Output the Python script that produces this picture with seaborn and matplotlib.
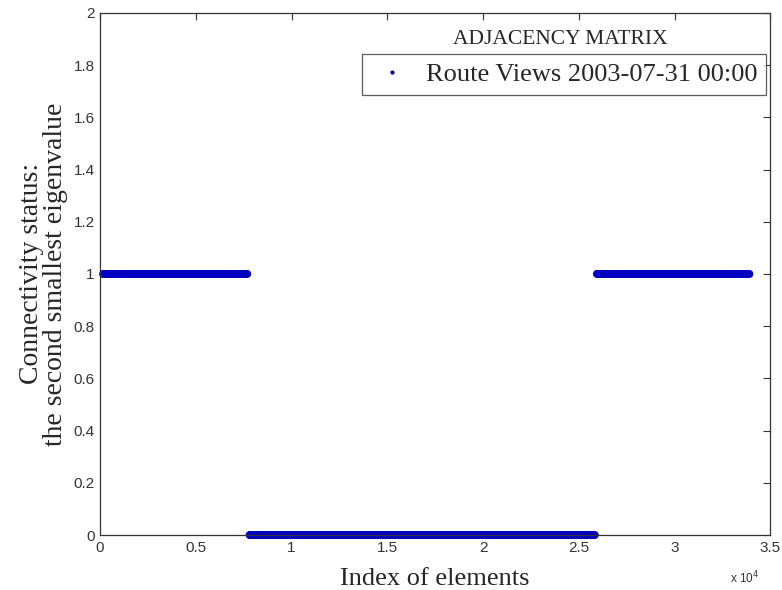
import numpy as np
import pandas as pd
import matplotlib
matplotlib.use("Agg")
import matplotlib.pyplot as plt
import seaborn as sns

# Segments of element indices and the eigenvalue status held across each
seg_start = [150, 7800, 25940]
seg_end = [7690, 25840, 33920]
seg_value = [1, 0, 1]
series_label = "Route Views 2003-07-31 00:00"

frames = []
for a, b, v in zip(seg_start, seg_end, seg_value):
    idx = np.arange(a, b + 1, 20)
    frames.append(pd.DataFrame({"index": idx, "status": v}))
df = pd.concat(frames, ignore_index=True)

sns.set_style("white")
plt.rcParams["font.family"] = ["Liberation Sans", "DejaVu Sans"]

fig = plt.figure(figsize=(7.82, 5.90), dpi=100)
ax = fig.add_axes([0.128, 0.0932, 0.857, 0.885])

sns.scatterplot(data=df, x="index", y="status", ax=ax, marker="o", s=30,
                color="#0000c0", edgecolor="none", legend=False, clip_on=False)

ax.set_xlim(0, 35000)
ax.set_ylim(0, 2)
ax.set_xticks(np.arange(0, 35001, 5000))
ax.set_xticklabels(["0", "0.5", "1", "1.5", "2", "2.5", "3", "3.5"])
ax.set_yticks(np.arange(0, 2.01, 0.2))
ax.set_yticklabels(["0", "0.2", "0.4", "0.6", "0.8", "1", "1.2", "1.4", "1.6", "1.8", "2"])
ax.tick_params(direction="in", length=5, width=0.8, labelsize=11, colors="#333333",
               top=True, right=True, pad=4)
for s in ax.spines.values():
    s.set_color("#333333")
    s.set_linewidth(0.9)

serif = ["Liberation Serif", "DejaVu Serif"]
ax.set_xlabel("Index of elements", fontsize=19, family=serif, labelpad=10)
ax.set_ylabel("Connectivity status:\nthe second smallest eigenvalue", fontsize=20,
              family=serif, labelpad=4, linespacing=0.95)
fig.text(0.933, 0.012, r"x 10$^{4}$", fontsize=8.5, color="#333333")

ax.text(0.687, 0.949, "ADJACENCY MATRIX", transform=ax.transAxes, ha="center",
        va="center", fontsize=15.5, family=serif)

handle = plt.Line2D([], [], marker=".", linestyle="none", color="#000080", markersize=4)
leg = ax.legend([handle], [series_label], loc="upper right", bbox_to_anchor=(0.994, 0.921),
                prop={"family": serif, "size": 19}, frameon=True, fancybox=False,
                handlelength=1.6, handletextpad=0.5, borderpad=0.33, borderaxespad=0)
leg.get_frame().set_edgecolor("#333333")
leg.get_frame().set_linewidth(0.9)

fig.savefig("out.png", dpi=100, facecolor="white")
